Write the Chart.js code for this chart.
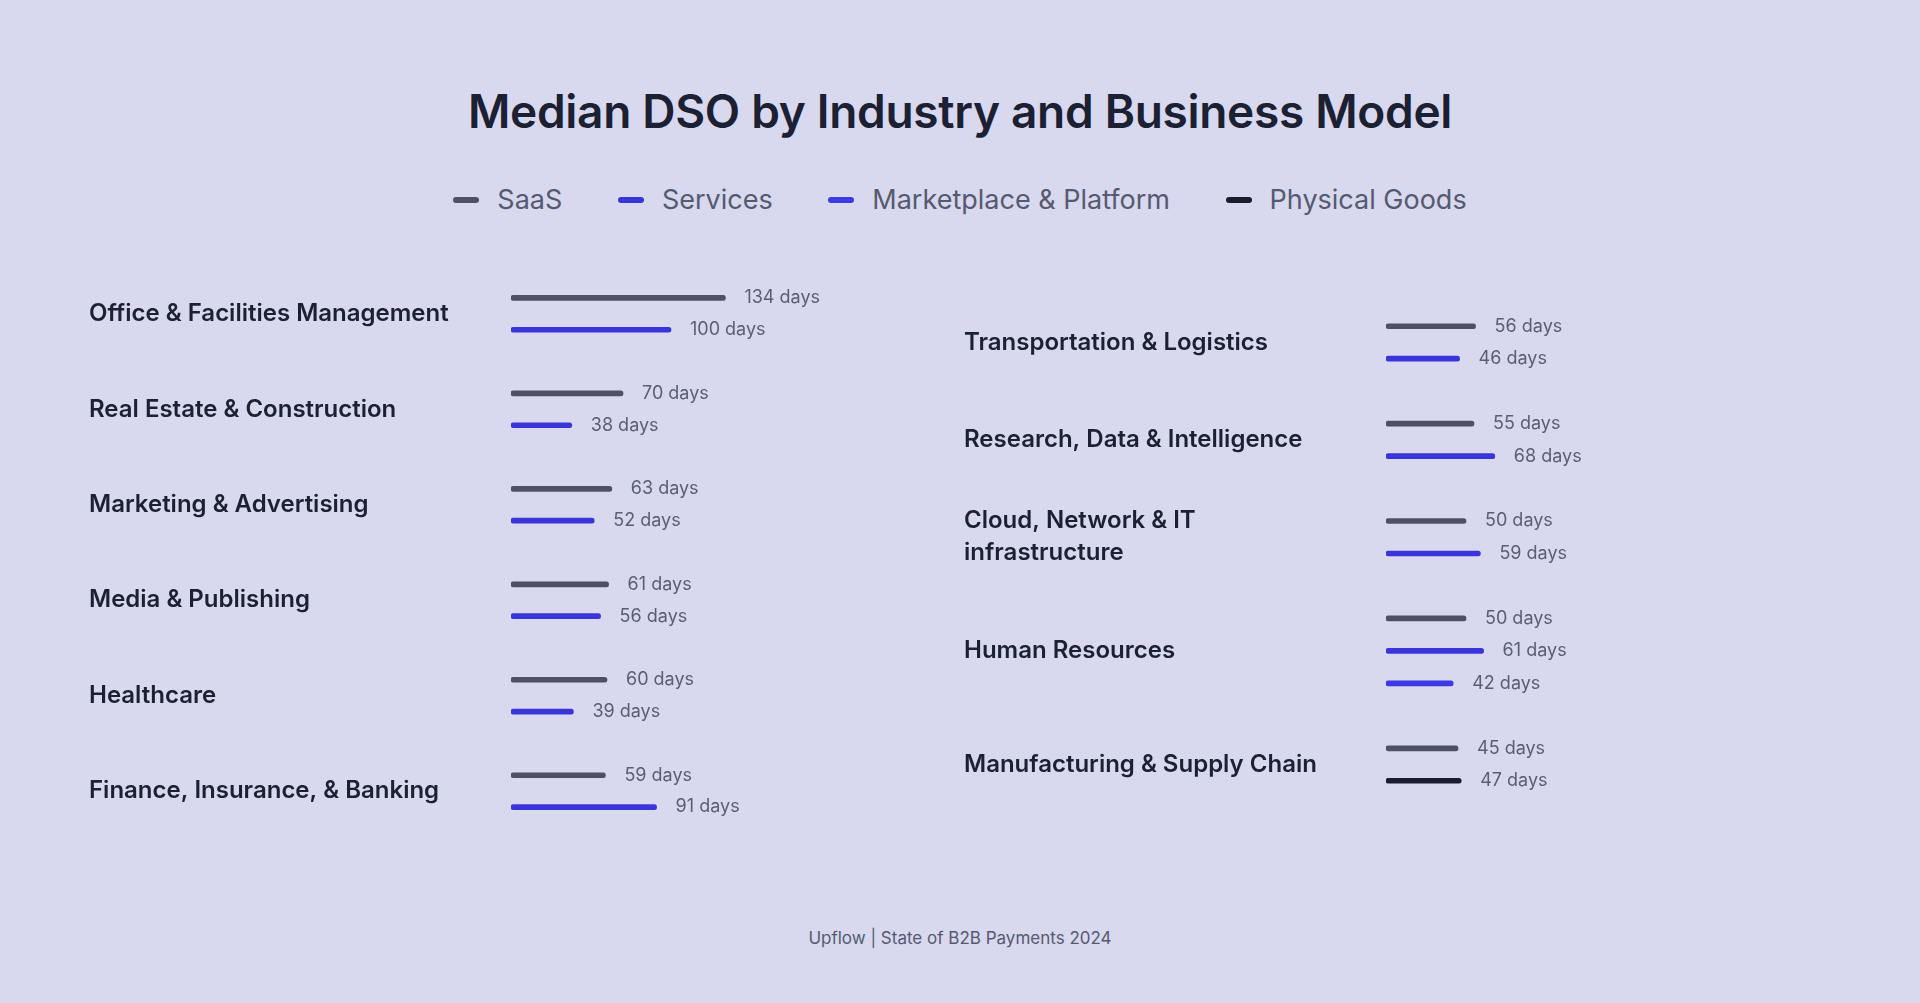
<!DOCTYPE html>
<html>
<head>
<meta charset="utf-8">
<script src="https://cdn.jsdelivr.net/npm/chart.js@4"></script>
<style>
  html, body { margin: 0; padding: 0; background: #d8d8ee; width: 1920px; height: 1003px; overflow: hidden; font-family: Inter, "Noto Sans", sans-serif; }
  #title { position: absolute; top: 83px; width: 1920px; text-align: center; font-size: 46px; font-weight: 600; color: #1b2033; letter-spacing: -0.3px; }
  #legend { position: absolute; top: 183px; width: 1920px; text-align: center; font-size: 27px; color: #555a70; }
  #legend span { margin: 0 24px; white-space: nowrap; }
  #legend i { display: inline-block; width: 26px; height: 6px; border-radius: 3px; vertical-align: middle; margin-right: 18px; position: relative; top: -2px; }
  #footer { position: absolute; top: 928px; width: 1920px; text-align: center; font-size: 17px; color: #555a70; }
  .box { position: absolute; width: 960px; }
</style>
</head>
<body>
<div id="title">Median DSO by Industry and Business Model</div>
<div id="legend">
  <span><i style="background:#4f4f66"></i>SaaS</span>
  <span><i style="background:#3a35d9"></i>Services</span>
  <span><i style="background:#3d3ae6"></i>Marketplace &amp; Platform</span>
  <span><i style="background:#1a1d2e"></i>Physical Goods</span>
</div>
<div class="box" style="left:0;top:282px;height:541px"><canvas id="leftChart"></canvas></div>
<div class="box" style="left:960px;top:310px;height:487px"><canvas id="rightChart"></canvas></div>
<div id="footer">Upflow | State of B2B Payments 2024</div>
<script>
// data
var seriesNames = ["SaaS", "Services", "Marketplace & Platform", "Physical Goods"];
var seriesColors = ["#4f4f66", "#3a35d9", "#3d3ae6", "#1a1d2e"];

var leftIndustries = ["Office & Facilities Management", "Real Estate & Construction", "Marketing & Advertising",
                      "Media & Publishing", "Healthcare", "Finance, Insurance, & Banking"];
var leftSaas        = [134, 70, 63, 61, 60, 59];
var leftServices    = [100, 38, 52, 56, 39, 91];
var leftMarketplace = [null, null, null, null, null, null];
var leftPhysical    = [null, null, null, null, null, null];

var rightIndustries = ["Transportation & Logistics", "Research, Data & Intelligence", "Cloud, Network & IT\ninfrastructure",
                       "Human Resources", "Manufacturing & Supply Chain"];
var rightSaas        = [56, 55, 50, 50, 45];
var rightServices    = [46, 68, 59, 61, null];
var rightMarketplace = [null, null, null, 42, null];
var rightPhysical    = [null, null, null, null, 47];

var pxPerDay = 1.6;

// one category row per bar, a blank row between industries
function buildRows(industries, series) {
  var rows = [], groups = [];
  industries.forEach(function (name, i) {
    if (i > 0) rows.push({ value: null, color: null });
    var first = rows.length;
    series.forEach(function (s, k) {
      if (s[i] !== null) rows.push({ value: s[i], color: seriesColors[k] });
    });
    groups.push({ name: name, first: first, last: rows.length - 1 });
  });
  return { rows: rows, groups: groups };
}

var groupLabels = {
  id: 'groupLabels',
  afterDatasetsDraw: function (chart, args, opts) {
    var ctx = chart.ctx, y = chart.scales.y;
    var meta = chart.getDatasetMeta(0);
    ctx.save();
    ctx.textBaseline = 'middle';
    // values
    ctx.font = '18px Inter, "Noto Sans", sans-serif';
    ctx.fillStyle = '#5a5e74';
    ctx.textAlign = 'left';
    chart.data.datasets[0].data.forEach(function (v, i) {
      if (v === null) return;
      ctx.fillText(v + ' days', meta.data[i].x + 19, meta.data[i].y);
    });
    // industry names
    ctx.font = '600 24px Inter, "Noto Sans", sans-serif';
    ctx.fillStyle = '#1b2033';
    opts.groups.forEach(function (g) {
      var cy = (y.getPixelForValue(g.first) + y.getPixelForValue(g.last)) / 2;
      var lines = g.name.split('\n');
      lines.forEach(function (l, j) {
        ctx.fillText(l, opts.labelX, cy + (j - (lines.length - 1) / 2) * 32);
      });
    });
    ctx.restore();
  }
};

function makeChart(id, industries, series, padLeft, labelX) {
  var b = buildRows(industries, series);
  var width = 960;
  new Chart(document.getElementById(id).getContext('2d'), {
    type: 'bar',
    data: {
      labels: b.rows.map(function (r, i) { return String(i); }),
      datasets: [{
        data: b.rows.map(function (r) { return r.value; }),
        backgroundColor: b.rows.map(function (r) { return r.color; }),
        barThickness: 5,
        borderRadius: 3,
        borderSkipped: false
      }]
    },
    options: {
      indexAxis: 'y',
      responsive: true,
      maintainAspectRatio: false,
      animation: false,
      layout: { padding: { left: padLeft, right: 0, top: 0, bottom: 0 } },
      scales: {
        x: { display: false, min: 0, max: (width - padLeft) / pxPerDay },
        y: { display: false, offset: true }
      },
      plugins: {
        legend: { display: false },
        tooltip: { enabled: false },
        groupLabels: { groups: b.groups, labelX: labelX }
      }
    },
    plugins: [groupLabels]
  });
}

makeChart('leftChart', leftIndustries, [leftSaas, leftServices, leftMarketplace, leftPhysical], 511, 89);
makeChart('rightChart', rightIndustries, [rightSaas, rightServices, rightMarketplace, rightPhysical], 426, 4);
</script>
</body>
</html>
